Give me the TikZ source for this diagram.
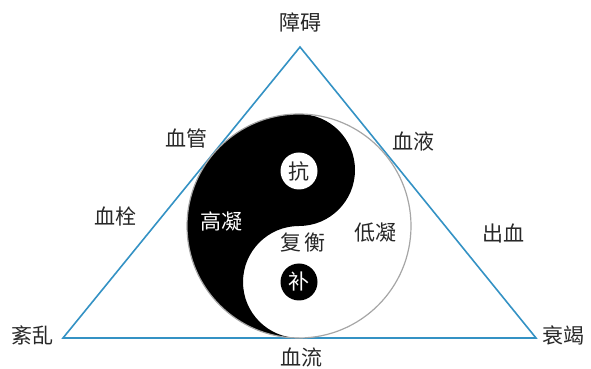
\documentclass[tikz,border=0pt]{standalone}
\usepackage{fontspec}
\newfontfamily\cjk{Noto Sans CJK SC}[Scale=1.0]
\definecolor{triblue}{RGB}{52,146,196}
\definecolor{txtgray}{RGB}{40,40,40}
\tikzset{
  lbl/.style={font=\cjk\fontsize{21}{21}\selectfont, text=txtgray, inner sep=0pt},
  wlbl/.style={font=\cjk\fontsize{21}{21}\selectfont, text=white, inner sep=0pt},
  tri/.style={draw=triblue, line width=1.6pt, line join=miter},
}
\begin{document}
\begin{tikzpicture}[x=1pt,y=1pt]
\useasboundingbox (0,0) rectangle (591,369);
% triangle
\coordinate (A) at (300,322);
\coordinate (L) at (63,31);
\coordinate (R) at (536,31);
\draw[tri] (A) -- (L) -- (R) -- cycle;
% yin-yang
\coordinate (C) at (299,143);
\fill[white] (C) circle[radius=112];
\fill[black] (299,255) arc[start angle=90, end angle=270, radius=112]
  arc[start angle=270, end angle=90, radius=56]
  arc[start angle=-90, end angle=90, radius=56] -- cycle;
\draw[gray!70, line width=1.2pt] (C) circle[radius=112];
\fill[white] (299,198) circle[radius=18.5];
\fill[black] (299,87) circle[radius=18.5];
% labels
\node[lbl] (zhangai) at (300,347) {障碍};
\node[lbl] (wenluan) at (33,34) {紊乱};
\node[lbl] (shuaijie) at (563,34) {衰竭};
\node[lbl] (xueguan) at (186,231) {血管};
\node[lbl] (xueshuan) at (115,152) {血栓};
\node[lbl] (xueye) at (413,228) {血液};
\node[lbl] (chuxue) at (503,136) {出血};
\node[lbl] (xueliu) at (301,12) {血流};
\node[wlbl] (gaoning) at (221,147) {高凝};
\node[lbl] (dining) at (375,136) {低凝};
\node[lbl] (fuheng) at (303,126) {复\hspace{4pt}衡};
\node[lbl] (kang) at (299,197) {抗};
\node[wlbl] (bu) at (299,87) {补};
\end{tikzpicture}
\end{document}
